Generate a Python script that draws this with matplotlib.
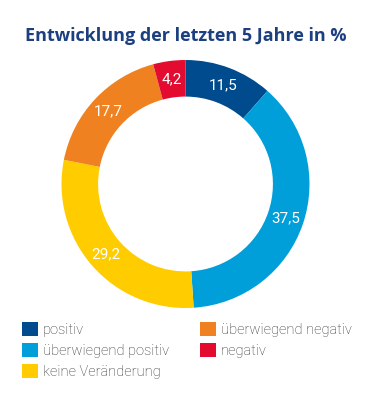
import matplotlib.pyplot as plt
from matplotlib.patches import Patch
import numpy as np

W, H = 378, 407

title = "Entwicklung der letzten 5 Jahre in %"
categories = ["positiv", "überwiegend positiv", "keine Veränderung",
              "überwiegend negativ", "negativ"]
values = [11.5, 37.5, 29.2, 17.7, 4.2]
colors = ["#004b8d", "#009fda", "#ffcc00", "#ef8120", "#e30b30"]

LIGHT = ["Roboto", "DejaVu Sans"]

fig = plt.figure(figsize=(W / 100, H / 100), dpi=100)
fig.patch.set_facecolor("white")

# donut: centre (185.5, 184) px, outer radius 124 px
cx, cy, r = 185.5, 184, 124
ax = fig.add_axes([(cx - r) / W, (H - cy - r) / H, 2 * r / W, 2 * r / H])
wedges, _ = ax.pie(values, colors=colors, startangle=90, counterclock=False,
                   radius=1, wedgeprops=dict(width=0.295, linewidth=0))
ax.set_xlim(-1, 1)
ax.set_ylim(-1, 1)
ax.set_aspect("equal")
ax.axis("off")

for w, v in zip(wedges, values):
    ang = np.deg2rad((w.theta1 + w.theta2) / 2)
    rr = 0.855
    ax.text(rr * np.cos(ang), rr * np.sin(ang), f"{v:.1f}".replace(".", ","),
            color="white", ha="center", va="center", fontsize=11,
            family=LIGHT)

fig.text(186 / W, 1 - 41 / H, title, ha="center", va="baseline",
         fontsize=13, fontweight="bold", color="#1b3f7f",
         family=["Open Sans", "DejaVu Sans"])

# legend in two columns
handles = [Patch(facecolor=c, edgecolor="none") for c in colors]
common = dict(loc="upper left", frameon=False, handlelength=1.1,
              handleheight=1.1, handletextpad=0.35, labelspacing=0.4,
              borderpad=0, borderaxespad=0, labelcolor="#333333",
              prop=dict(family=LIGHT, size=10.5, weight="light"))
fig.legend(handles[:3], categories[:3],
           bbox_to_anchor=(22 / W, 1 - 322 / H), **common)
fig.legend(handles[3:], categories[3:],
           bbox_to_anchor=(200 / W, 1 - 322 / H), **common)

fig.savefig("out.png", dpi=100, facecolor="white")
